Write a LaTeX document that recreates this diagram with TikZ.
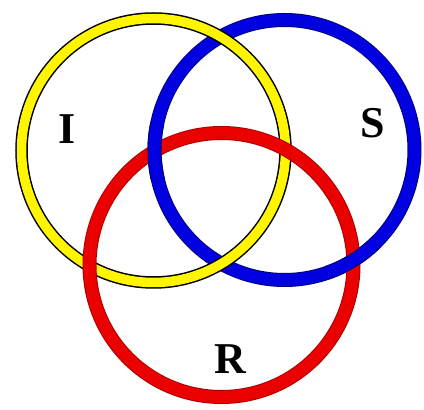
\documentclass[tikz,border=0pt]{standalone}
\usepackage{fontspec}
\setmainfont{Liberation Serif}
\definecolor{ringyellow}{RGB}{255,245,0}
\definecolor{ringblue}{RGB}{0,0,225}
\definecolor{ringred}{RGB}{235,0,0}
\definecolor{edgered}{RGB}{170,0,0}
\definecolor{edgeblue}{RGB}{0,0,120}
\begin{document}
\begin{tikzpicture}[x=1pt,y=1pt,
  yring/.style={draw=black,line width=1.5pt,double=ringyellow,double distance=9.5pt},
  bring/.style={draw=edgeblue,line width=1pt,double=ringblue,double distance=12pt},
  rring/.style={draw=edgered,line width=1pt,double=ringred,double distance=12pt},
  lbl/.style={font=\fontsize{44}{44}\selectfont\bfseries,inner sep=0pt}]
\useasboundingbox (0,0) rectangle (424,410);
\coordinate (cy) at (153.5,259.5);
\coordinate (cb) at (284.5,260);
\coordinate (cr) at (221.5,145);
% blue under yellow, yellow under red
\draw[bring] (cb) circle[radius=130];
\draw[yring] (cy) circle[radius=132];
\draw[rring] (cr) circle[radius=132];
% blue over red at its two crossings
\draw[bring] ([shift={(168:130)}]cb) arc[start angle=168,end angle=193,radius=130];
\draw[bring] ([shift={(-71:130)}]cb) arc[start angle=-71,end angle=-45,radius=130];
\node[lbl] (li) at (67,281) {I};
\node[lbl] (ls) at (373,287) {S};
\node[lbl] (lr) at (230,51) {R};
\end{tikzpicture}
\end{document}
